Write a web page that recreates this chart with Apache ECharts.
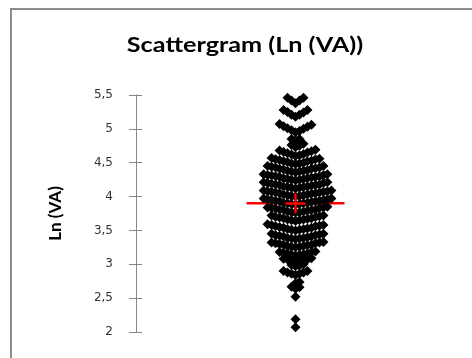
<!DOCTYPE html>
<html>
<head>
<meta charset="utf-8">
<script src="https://cdn.jsdelivr.net/npm/echarts@6/dist/echarts.min.js"></script>
<style>
  html, body { margin: 0; padding: 0; background: #fff; }
  #main { width: 472px; height: 358px; }
</style>
</head>
<body>
<div id="main"></div>
<script>
// Ln(VA) values, one row per horizontal band of the scattergram (top to bottom)
const rows = [
  [5.38, 5.42, 5.42, 5.46, 5.46],
  [5.18, 5.21, 5.21, 5.25, 5.24, 5.28, 5.28],
  [4.95, 4.97, 4.98, 5.01, 5.00, 5.04, 5.03, 5.06, 5.07],
  [4.83, 4.85, 4.85],
  [4.73, 4.75, 4.76, 4.78],
  [4.60, 4.61, 4.62, 4.63, 4.64, 4.65, 4.66, 4.67, 4.68, 4.69],
  [4.48, 4.49, 4.49, 4.50, 4.51, 4.52, 4.52, 4.53, 4.54, 4.55, 4.55, 4.56, 4.57],
  [4.36, 4.37, 4.37, 4.38, 4.38, 4.39, 4.40, 4.41, 4.41, 4.42, 4.43, 4.43, 4.44, 4.45, 4.45],
  [4.24, 4.25, 4.25, 4.26, 4.26, 4.27, 4.27, 4.28, 4.29, 4.29, 4.30, 4.30, 4.31, 4.32, 4.32, 4.33, 4.33],
  [4.12, 4.13, 4.13, 4.14, 4.14, 4.15, 4.15, 4.16, 4.17, 4.17, 4.18, 4.18, 4.19, 4.20, 4.20, 4.21, 4.21],
  [4.00, 4.01, 4.01, 4.02, 4.02, 4.03, 4.03, 4.04, 4.05, 4.05, 4.06, 4.06, 4.07, 4.07, 4.08, 4.08, 4.09, 4.09],
  [3.88, 3.89, 3.89, 3.90, 3.90, 3.91, 3.91, 3.92, 3.93, 3.93, 3.94, 3.94, 3.95, 3.95, 3.96, 3.96, 3.97, 3.97],
  [3.76, 3.77, 3.77, 3.78, 3.78, 3.79, 3.80, 3.80, 3.81, 3.81, 3.82, 3.83, 3.83, 3.84, 3.84, 3.85],
  [3.64, 3.65, 3.65, 3.66, 3.66, 3.67, 3.68, 3.68, 3.69, 3.70, 3.70, 3.71, 3.72, 3.72],
  [3.50, 3.51, 3.51, 3.52, 3.52, 3.53, 3.54, 3.54, 3.55, 3.56, 3.56, 3.57, 3.58, 3.58, 3.59],
  [3.37, 3.38, 3.38, 3.39, 3.39, 3.40, 3.41, 3.41, 3.42, 3.43, 3.43, 3.44, 3.45, 3.45],
  [3.25, 3.26, 3.26, 3.27, 3.27, 3.28, 3.29, 3.29, 3.30, 3.31, 3.31, 3.32, 3.32, 3.33],
  [3.13, 3.14, 3.14, 3.15, 3.16, 3.16, 3.17, 3.18, 3.18, 3.19],
  [3.04, 3.05, 3.05, 3.06, 3.07, 3.07, 3.08, 3.09],
  [2.97, 2.98, 2.99, 3.00],
  [2.84, 2.86, 2.86, 2.88, 2.88, 2.90, 2.90],
  [2.72, 2.74],
  [2.64, 2.66, 2.67],
  [2.52],
  [2.19],
  [2.07]
];
const meanLn = [3.9];
const yMin = 2, yMax = 5.5, yStep = 0.5;

// spread each band sideways: lowest value in the middle, then right/left alternately
const slot = 0.025;
const points = [];
rows.forEach(function (row) {
  const sorted = row.slice().sort(function (a, b) { return a - b; });
  sorted.forEach(function (v, i) {
    const k = Math.ceil(i / 2);
    const side = i % 2 === 1 ? 1 : -1;
    points.push([i === 0 ? 0 : side * k * slot, v]);
  });
});

const myChart = echarts.init(document.getElementById('main'));
const axisGray = '#868686';
myChart.setOption({
  animation: false,
  graphic: [
    { type: 'rect', left: 10, top: 8, shape: { width: 480, height: 370 },
      style: { fill: '#fff', stroke: '#8c8c8c', lineWidth: 2 }, z: -10 },
    { type: 'text', x: 245, y: 46, scaleX: 1.26, originX: 0, originY: 0,
      style: { text: 'Scattergram (Ln (VA))', font: 'bold 20px Lato', fill: '#000',
               textAlign: 'center', textVerticalAlign: 'middle' } }
  ],
  grid: { left: 136, right: 17, top: 95, bottom: 26 },
  xAxis: { type: 'value', min: -1, max: 1, show: false },
  yAxis: [
    {
      type: 'value', min: yMin, max: yMax, interval: yStep,
      name: 'Ln (VA)', nameLocation: 'middle', nameGap: 72, nameRotate: 90,
      nameTextStyle: { fontFamily: 'Lato', fontWeight: 'bold', fontSize: 17, color: '#000' },
      axisLine: { show: true, onZero: false, lineStyle: { color: axisGray } },
      axisTick: { show: true, length: 7, lineStyle: { color: axisGray } },
      axisLabel: { margin: 23, fontFamily: 'DejaVu Sans', fontSize: 12, color: '#333',
                   formatter: function (v) { return String(v).replace('.', ','); } },
      splitLine: { show: false }
    },
    {
      type: 'value', min: yMin, max: yMax, interval: yStep, position: 'left',
      axisLine: { show: false, onZero: false },
      axisTick: { show: true, inside: true, length: 6, lineStyle: { color: axisGray } },
      axisLabel: { show: false },
      splitLine: { show: false }
    }
  ],
  series: [
    {
      type: 'scatter', z: 1, silent: true,
      data: meanLn.map(function (m) { return [0, m]; }),
      symbol: 'rect', symbolSize: [98, 2.5],
      itemStyle: { color: '#ff0000', opacity: 1 }
    },
    {
      type: 'scatter', z: 2,
      data: points,
      symbol: 'diamond', symbolSize: 10,
      itemStyle: { color: '#000', opacity: 1 }
    },
    {
      type: 'scatter', z: 3, silent: true,
      data: meanLn.map(function (m) { return [0, m]; }),
      symbol: 'path://M0,9H20V11.5H0Z M8.8,0H11.2V20H8.8Z', symbolSize: [20, 20],
      itemStyle: { color: '#ff0000', opacity: 1 }
    }
  ]
});
</script>
</body>
</html>
